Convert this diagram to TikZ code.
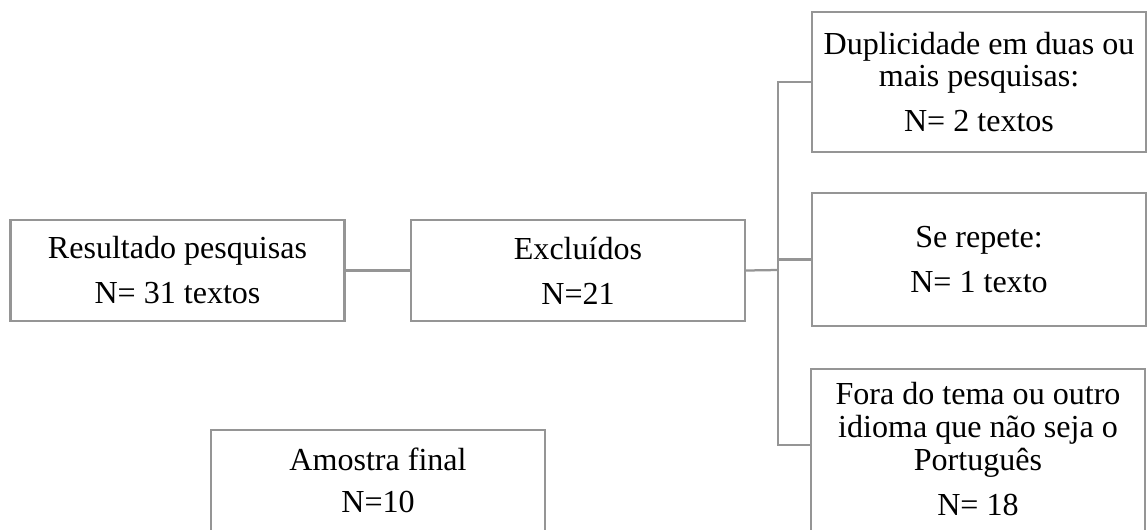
\documentclass[tikz,border=0pt]{standalone}
\usepackage{fontspec}
\setmainfont{Liberation Serif}
\definecolor{boxgray}{HTML}{959595}
\begin{document}
\begin{tikzpicture}[x=0.025cm, y=-0.025cm,
  box/.style={rectangle, draw=boxgray, line width=1.6pt, fill=white, text=black, align=center, minimum width=8.35cm, inner xsep=0pt, font=\fontsize{22.8}{22.5}\selectfont},
  link/.style={draw=boxgray, line width=1.6pt}]
\useasboundingbox (0,0) rectangle (1147,529);
\clip (0,0) rectangle (1147,529);
\begin{scope}
\node[box, minimum height=2.525cm] (res) at (177.5,270.5) {Resultado pesquisas\\[9.5pt] N= 31 textos};
\node[box, minimum height=2.525cm] (exc) at (578,270.5) {Excluídos\\[9.5pt] N=21};
\node[box, minimum height=3.5cm] (dup) at (979,82) {Duplicidade em duas ou\\ mais pesquisas:\\[9.5pt] N= 2 textos};
\node[box, minimum height=3.325cm] (rep) at (979,259.5) {Se repete:\\[9.5pt] N= 1 texto};
\node[box, anchor=north, inner ysep=9pt, text depth=24pt] (fora) at (978,368) {Fora do tema ou outro\\[1pt] idioma que não seja o\\[1pt] Português\\[9.5pt] N= 18};
\node[box, anchor=north, inner ysep=13pt, text depth=24pt] (fin) at (378,429) {Amostra final\\[6.7pt] N=10};
\coordinate (bus) at (778,270);
\end{scope}
\begin{scope}
\draw[link] (res) edge (exc);
\draw[link] (exc.east) -- (bus);
\draw[link] (bus) |- (dup.west);
\draw[link] (bus) |- (rep.west);
\draw[link] (bus) |- ([yshift=-54.8pt]fora.north west);
\end{scope}
\end{tikzpicture}
\end{document}
